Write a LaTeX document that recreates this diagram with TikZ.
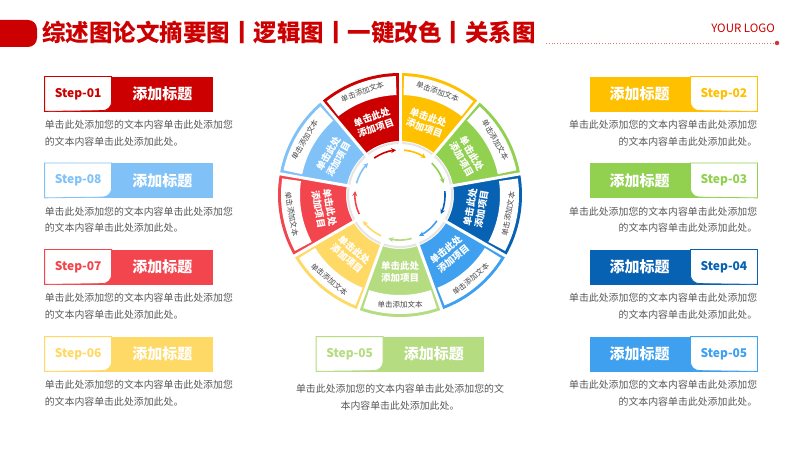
\documentclass[tikz,border=0pt]{standalone}
\usepackage{fontspec}
\setmainfont{Noto Sans CJK SC}
\usetikzlibrary{positioning,arrows.meta}
\definecolor{DeepRed}{HTML}{CC0000}
\definecolor{SunYellow}{HTML}{FFC000}
\definecolor{LeafGreen}{HTML}{92D050}
\definecolor{DeepBlue}{HTML}{0862B4}
\definecolor{SkyBlue}{HTML}{3FA0F0}
\definecolor{PaleGreen}{HTML}{B5DC80}
\definecolor{PaleYellow}{HTML}{FFD966}
\definecolor{CoralRed}{HTML}{F2454D}
\definecolor{PaleBlue}{HTML}{80C2F8}
\definecolor{TextGray}{HTML}{595959}

\begin{document}
\begin{tikzpicture}[x=1pt, y=1pt,
    bar/.style={draw=#1, fill=#1, line width=0.8pt, minimum width=167pt,
      minimum height=34pt, inner sep=0pt},
    tab/.style={draw=#1, fill=white, line width=0.8pt},
    stepno/.style={text=#1, font=\fontsize{12}{14}\selectfont\bfseries, inner sep=0pt},
    head/.style={text=white, font=\fontsize{15}{18}\selectfont\bfseries, inner sep=0pt},
    desc/.style={text=TextGray, font=\fontsize{9.9}{16.5}\selectfont, inner sep=0pt},
    secttxt/.style={text=white, font=\fontsize{9.5}{11.5}\selectfont\bfseries,
      align=center, inner sep=0pt},
    bandtxt/.style={text=TextGray!80!black, font=\fontsize{7.5}{9}\selectfont, inner sep=0pt},
    flow/.style={-{Stealth[length=5pt, width=5pt]}, line width=1.6pt}
  ]
    \useasboundingbox (0,0) rectangle (800,450);
    \fill[white] (0,0) rectangle (800,450);

    % header
    \node[fill=DeepRed, rounded corners=9pt, minimum width=50pt, minimum height=27pt] (tag) at (12,416.5) {};
    \node[anchor=west, text=DeepRed, font=\fontsize{23.5}{26}\selectfont\bfseries, inner sep=0pt]
      (ttl) at (42,417) {综述图论文摘要图丨逻辑图丨一键改色丨关系图};
    \node[anchor=east, text=DeepRed, font=\fontsize{11.5}{13}\selectfont, inner sep=0pt]
      (logo) at (775,422) {YOUR LOGO};
    \node[circle, fill=DeepRed!80, inner sep=0pt, minimum size=4.5pt] (dot) at (777,407) {};
    \coordinate (rule) at (546,407);
    \draw[DeepRed!55, dotted, line width=0.8pt] (rule) -- (dot);

    % left column
    \foreach \nm/\y/\col/\no in {s1/356/DeepRed/01, s8/269.5/PaleBlue/08,
                                 s7/183/CoralRed/07, s6/96/PaleYellow/06} {
      \node[bar=\col] (\nm) at (128.5,\y) {};
      \filldraw[tab=\col] (\nm.north west) -- ++(67,0) -- ++(0,-25)
        arc[start angle=0, end angle=-90, radius=9] -- (\nm.south west) -- cycle;
      \node[stepno=\col] (\nm-no) at ([xshift=33.5pt]\nm.west) {Step-\no};
      \node[head] (\nm-hd) at ([xshift=-50pt]\nm.east) {添加标题};
      \node[desc, align=left, below=9pt of \nm.south west, anchor=north west] (\nm-tx)
        {单击此处添加您的文本内容单击此处添加您\\的文本内容单击此处添加此处。};
    }

    % right column
    \foreach \nm/\y/\col/\no in {s2/356/SunYellow/02, s3/269.5/LeafGreen/03,
                                 s4/183/DeepBlue/04, s5/96/SkyBlue/05} {
      \node[bar=\col] (\nm) at (673.5,\y) {};
      \filldraw[tab=\col] (\nm.north east) -- ++(-67,0) -- ++(0,-25)
        arc[start angle=180, end angle=270, radius=9] -- (\nm.south east) -- cycle;
      \node[stepno=\col] (\nm-no) at ([xshift=-33.5pt]\nm.east) {Step-\no};
      \node[head] (\nm-hd) at ([xshift=50pt]\nm.west) {添加标题};
      \node[desc, align=right, below=9pt of \nm.south east, anchor=north east] (\nm-tx)
        {单击此处添加您的文本内容单击此处添加您\\的文本内容单击此处添加此处。};
    }

    % bottom step
    \node[bar=PaleGreen] (s9) at (400,96) {};
    \filldraw[tab=PaleGreen] (s9.north west) -- ++(67,0) -- ++(0,-25)
      arc[start angle=0, end angle=-90, radius=9] -- (s9.south west) -- cycle;
    \node[stepno=PaleGreen] (s9-no) at ([xshift=33.5pt]s9.west) {Step-05};
    \node[head] (s9-hd) at ([xshift=-50pt]s9.east) {添加标题};
    \node[desc, align=center, below=13pt of s9.south] (s9-tx)
      {单击此处添加您的文本内容单击此处添加您的文\\本内容单击此处添加此处。};

    % wheel
    \coordinate (c) at (400,255);
    \draw[black!10, line width=2pt] (c) circle[radius=52];
    \foreach \a/\rot/\col [count=\i] in {90/-20/SunYellow, 50/-60/LeafGreen, 10/80/DeepBlue,
        -30/40/SkyBlue, -70/0/PaleGreen, -110/-40/PaleYellow, -150/-80/CoralRed,
        170/60/PaleBlue, 130/20/DeepRed} {
      \pgfmathsetmacro\b{\a-40}
      \pgfmathsetmacro\m{\a-20}
      \fill[\col] ([shift={(\a:54)}]c) arc[start angle=\a, end angle=\b, radius=54]
        -- ([shift={(\b:122)}]c) arc[start angle=\b, end angle=\a, radius=122] -- cycle;
      \fill[white] ([shift={(\a-2:100)}]c) arc[start angle=\a-2, end angle=\b+2, radius=100]
        -- ([shift={(\b+2:119)}]c) arc[start angle=\b+2, end angle=\a-2, radius=119] -- cycle;
      \node[secttxt, rotate=\rot] (w\i) at ([shift={(\m:77)}]c) {单击此处\\添加项目};
      \node[bandtxt, rotate=\rot] (v\i) at ([shift={(\m:110)}]c) {单击添加文本};
      \draw[flow, \col] ([shift={(\a-5:45)}]c) arc[start angle=\a-5, end angle=\b+5, radius=45];
    }
    \foreach \a in {90,50,...,-230}
      \draw[white, line width=3pt] ([shift={(\a:50)}]c) -- ([shift={(\a:126)}]c);
  \end{tikzpicture}
\end{document}
